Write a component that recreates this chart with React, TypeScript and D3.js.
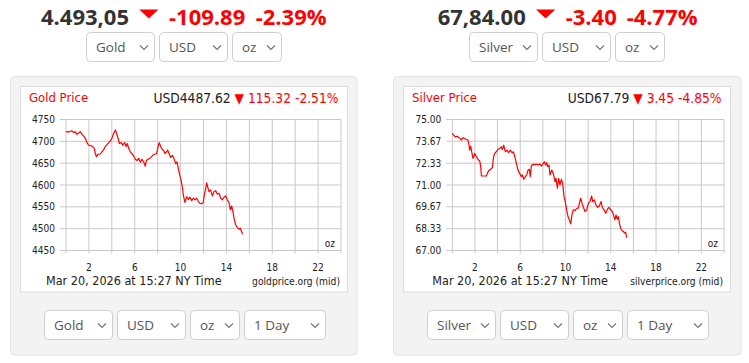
import React from 'react';
import * as d3 from 'd3';

// ---- data ----
const goldHours = [0.00,0.17,0.38,0.52,0.67,0.81,0.96,1.10,1.25,1.40,1.54,1.69,1.83,1.98,2.27,2.47,2.56,2.65,2.79,2.99,3.14,3.29,3.43,3.64,3.87,4.01,4.16,4.31,4.39,4.51,4.66,4.83,4.95,5.12,5.24,5.35,5.47,5.61,5.76,5.91,6.05,6.20,6.34,6.49,6.63,6.78,6.92,7.01,7.16,7.36,7.51,7.65,7.80,7.91,8.06,8.14,8.26,8.41,8.55,8.64,8.78,8.87,8.99,9.13,9.28,9.42,9.57,9.69,9.80,9.92,10.04,10.15,10.24,10.38,10.53,10.68,10.82,10.97,11.11,11.26,11.40,11.55,11.69,11.84,11.98,12.07,12.19,12.28,12.36,12.48,12.62,12.77,12.92,13.06,13.21,13.35,13.50,13.64,13.79,13.93,14.08,14.22,14.34,14.46,14.57,14.69,14.81,14.95,15.10,15.21,15.33,15.42];
const goldValues = [4723,4721,4723,4724,4720,4722,4716,4719,4722,4716,4712,4707,4697,4691,4689,4684,4672,4665,4670,4671,4676,4681,4688,4694,4701,4707,4718,4726,4720,4710,4695,4697,4691,4697,4688,4695,4684,4676,4672,4666,4659,4656,4661,4652,4659,4653,4643,4656,4659,4662,4666,4670,4671,4672,4691,4697,4688,4681,4678,4672,4676,4680,4672,4663,4668,4661,4649,4653,4638,4623,4611,4596,4577,4560,4573,4567,4572,4564,4570,4566,4570,4562,4558,4557,4560,4577,4592,4605,4596,4585,4589,4575,4585,4587,4579,4581,4570,4566,4572,4575,4566,4560,4543,4552,4539,4520,4509,4503,4499,4501,4493,4487];

const silverHours = [0.00,0.12,0.27,0.42,0.56,0.71,0.80,0.95,1.09,1.24,1.39,1.48,1.53,1.62,1.74,1.83,1.98,2.12,2.27,2.42,2.51,2.57,2.80,3.01,3.10,3.21,3.39,3.54,3.65,3.74,3.89,4.04,4.18,4.33,4.42,4.54,4.69,4.83,4.98,5.13,5.27,5.39,5.51,5.66,5.80,5.95,6.10,6.19,6.31,6.45,6.57,6.69,6.81,6.89,6.98,7.13,7.28,7.42,7.57,7.72,7.89,8.04,8.13,8.25,8.34,8.42,8.54,8.63,8.78,8.92,9.07,9.16,9.28,9.40,9.51,9.63,9.75,9.87,9.98,10.10,10.22,10.34,10.46,10.57,10.69,10.84,10.99,11.13,11.22,11.34,11.46,11.58,11.72,11.87,12.02,12.16,12.31,12.40,12.55,12.69,12.84,12.99,13.14,13.25,13.40,13.55,13.70,13.84,13.99,14.14,14.28,14.37,14.46,14.58,14.67,14.76,14.87,14.99,15.11,15.23,15.32,15.40];
const silverValues = [74.15,74.04,73.94,73.98,73.90,73.84,73.74,73.90,73.84,73.78,73.74,73.43,73.13,73.37,72.93,72.62,72.93,72.73,72.56,72.48,72.12,71.55,71.55,71.55,71.71,71.87,71.96,72.06,72.73,72.93,73.03,73.17,73.23,73.33,73.17,73.43,73.03,73.13,72.97,73.13,72.97,73.03,72.77,72.32,71.91,71.71,71.51,71.61,71.35,71.51,71.61,71.91,71.96,71.51,72.16,72.28,72.22,72.28,72.22,72.28,72.16,72.32,72.42,72.22,72.36,72.12,72.22,71.61,71.91,71.71,71.20,71.41,70.80,71.41,71.00,71.35,71.10,70.29,69.99,69.48,69.07,68.87,68.63,69.17,69.48,69.44,69.58,69.58,69.88,70.19,69.88,69.64,69.38,69.48,69.88,69.99,70.33,69.99,70.09,69.78,69.64,69.72,69.99,69.64,69.48,69.27,69.52,69.64,69.48,69.38,69.07,68.87,69.17,68.91,69.07,68.67,68.36,68.22,68.16,68.06,68.10,67.79];

const goldTicksY = [4450, 4500, 4550, 4600, 4650, 4700, 4750];
const silverTicksY = [67.0, 68.33, 69.67, 71.0, 72.33, 73.67, 75.0];
const hourLabels = [2, 6, 10, 14, 18, 22];
const gridHours = [0, 2, 4, 6, 8, 10, 12, 14, 16, 18, 20, 22, 24];

const goldHeader = { price: '4.493,05', change: '-109.89', pct: '-2.39%' };
const silverHeader = { price: '67,84.00', change: '-3.40', pct: '-4.77%' };

const RED = '#ff0000';
const CHART_FONT = "'DejaVu Sans Condensed', 'DejaVu Sans', Verdana, sans-serif";
const UI_FONT = "'Open Sans', 'Noto Sans', sans-serif";

function Select({ x, y, w, label }: { x: number; y: number; w: number; label: string }) {
  const h = 29;
  const cx = x + w - 11;
  const cy = y + h / 2 + 1;
  return (
    <g>
      <rect x={x + 0.5} y={y + 0.5} width={w - 1} height={h} rx={4} fill="#fff" stroke="#cfcfcf" />
      <text x={x + 10} y={y + 20} fontFamily={UI_FONT} fontSize={13.5} fill="#555">{label}</text>
      <path d={`M${cx - 4},${cy - 2} L${cx},${cy + 2} L${cx + 4},${cy - 2}`} fill="none" stroke="#777" strokeWidth={1.2} />
    </g>
  );
}

function TopHeader({ xs, hdr }: { xs: number[]; hdr: { price: string; change: string; pct: string } }) {
  const [xPrice, xTri0, xTri1, xChange, xPct] = xs;
  return (
    <g fontFamily={UI_FONT} fontWeight="bold" fontSize={22}>
      <text x={xPrice} y={25} fill="#333">{hdr.price}</text>
      <path d={`M${xTri0},9.5 L${xTri1},9.5 L${(xTri0 + xTri1) / 2},18.5 Z`} fill={RED} />
      <text x={xChange} y={25} fill={RED}>{hdr.change}</text>
      <text x={xPct} y={25} fill={RED}>{hdr.pct}</text>
    </g>
  );
}

type PanelProps = {
  ox: number; ow: number; ix: number; iw: number;
  left: number; right: number;
  title: string; usd: string; diff: string;
  hours: number[]; values: number[]; ticks: number[]; fmt: (v: number) => string;
  source: string;
};

function Panel(p: PanelProps) {
  const top = 119.5, bottom = 250.5;
  const x = d3.scaleLinear().domain([0, 24]).range([p.left, p.right]);
  const y = d3.scaleLinear().domain([p.ticks[0], p.ticks[p.ticks.length - 1]]).range([bottom, top]);
  const pts = p.hours.map((h, i) => [h, p.values[i]] as [number, number]);
  const line = d3.line<[number, number]>().x(d => x(d[0])).y(d => y(d[1]));
  return (
    <g>
      <rect x={p.ox} y={76.5} width={p.ow} height={278.5} rx={4} fill="#f3f3f3" stroke="#e2e2e2" />
      <rect x={p.ix} y={86.5} width={p.iw} height={205.5} fill="#fff" stroke="#dcdcdc" />
      <g fontFamily={CHART_FONT}>
        <text x={p.ix + 8.5} y={102} fontSize={13} fill={RED}>{p.title}</text>
        <text x={p.ix + p.iw - 9} y={103} fontSize={13.7} textAnchor="end" fill="#222">
          {p.usd}
          <tspan fill={RED}>{' \u25BC '}</tspan>
          <tspan fill={RED}>{p.diff}</tspan>
        </text>
        {p.ticks.map(t => (
          <g key={t}>
            <line x1={p.left - 6} x2={p.right} y1={y(t)} y2={y(t)} stroke="#c8c8c8" strokeWidth={1} />
            <text x={p.left - 11} y={y(t)} dy="0.36em" fontSize={10} textAnchor="end" fill="#222">{p.fmt(t)}</text>
          </g>
        ))}
        {gridHours.map(h => (
          <line key={h} x1={x(h)} x2={x(h)} y1={top} y2={bottom + 3} stroke="#c8c8c8" strokeWidth={1} />
        ))}
        {hourLabels.map(h => (
          <text key={h} x={x(h)} y={271} fontSize={10} textAnchor="middle" fill="#222">{h}</text>
        ))}
        <text x={p.right - 6} y={247} fontSize={10} textAnchor="end" fill="#222">oz</text>
        <text x={p.left - 20} y={285} fontSize={12.5} fill="#222">Mar 20, 2026 at 15:27 NY Time</text>
        <text x={p.right - 1} y={285} fontSize={10.2} textAnchor="end" fill="#222">{p.source}</text>
      </g>
      <path d={line(pts) || ''} fill="none" stroke={RED} strokeWidth={1.2} strokeLinejoin="round" />
    </g>
  );
}

export default function App() {
  return (
    <svg width={749} height={363} style={{ position: 'absolute', left: 0, top: 0, background: '#fff' }}>
      <rect width={749} height={363} fill="#fff" />
      <TopHeader xs={[41, 139.3, 158.3, 169, 255.7]} hdr={goldHeader} />
      <TopHeader xs={[437.7, 536, 555.3, 565.7, 626.7]} hdr={silverHeader} />
      <Select x={86} y={32} w={69} label="Gold" />
      <Select x={159} y={32} w={69} label="USD" />
      <Select x={232} y={32} w={50} label="oz" />
      <Select x={469} y={32} w={69} label="Silver" />
      <Select x={542} y={32} w={69} label="USD" />
      <Select x={615} y={32} w={50} label="oz" />

      <Panel ox={10.5} ow={346.5} ix={20.5} iw={327} left={66} right={341}
        title="Gold Price" usd="USD4487.62" diff="115.32 -2.51%"
        hours={goldHours} values={goldValues} ticks={goldTicksY} fmt={v => String(v)}
        source="goldprice.org (mid)" />
      <Panel ox={393.5} ow={347.5} ix={403.5} iw={327} left={452.3} right={724}
        title="Silver Price" usd="USD67.79" diff="3.45 -4.85%"
        hours={silverHours} values={silverValues} ticks={silverTicksY} fmt={v => v.toFixed(2)}
        source="silverprice.org (mid)" />

      <Select x={44} y={310} w={69} label="Gold" />
      <Select x={117} y={310} w={69} label="USD" />
      <Select x={190} y={310} w={50} label="oz" />
      <Select x={244} y={310} w={82} label="1 Day" />
      <Select x={427} y={310} w={69} label="Silver" />
      <Select x={500} y={310} w={69} label="USD" />
      <Select x={573} y={310} w={50} label="oz" />
      <Select x={627} y={310} w={82} label="1 Day" />
    </svg>
  );
}
